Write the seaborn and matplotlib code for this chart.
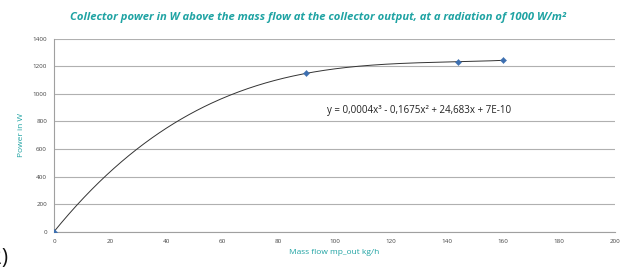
import numpy as np
import pandas as pd
import matplotlib
matplotlib.use("Agg")
import matplotlib.pyplot as plt
import seaborn as sns

# Data
mass_flow = [0, 90, 144, 160]
power = [0, 1148, 1232, 1242]
x_ticks = [0, 20, 40, 60, 80, 100, 120, 140, 160, 180, 200]
y_ticks = [0, 200, 400, 600, 800, 1000, 1200, 1400]
title = "Collector power in W above the mass flow at the collector output, at a radiation of 1000 W/m²"
x_label = "Mass flow mp_out kg/h"
y_label = "Power in W"
equation = "y = 0,0004x³ - 0,1675x² + 24,683x + 7E-10"

sns.set_theme(style="white")
plt.rcParams['font.family'] = ['Open Sans', 'DejaVu Sans']

teal = "#1fa3a3"
fig = plt.figure(figsize=(6.3, 2.69), dpi=100)
ax = fig.add_axes([0.0857, 0.1387, 0.8905, 0.718])

# cubic trendline through the points (as Excel does)
coef = np.polyfit(mass_flow, power, 3)
xs = np.linspace(min(mass_flow), max(mass_flow), 300)
trend = pd.DataFrame({"x": xs, "y": np.polyval(coef, xs)})
sns.lineplot(data=trend, x="x", y="y", ax=ax, color="#333333", linewidth=0.7)

pts = pd.DataFrame({"x": mass_flow, "y": power})
sns.scatterplot(data=pts, x="x", y="y", ax=ax, marker="D", s=10,
                color="#3d6fb0", edgecolor="#3d6fb0", zorder=5)

ax.set_xlim(0, 200)
ax.set_ylim(0, 1400)
ax.set_xticks(x_ticks)
ax.set_yticks(y_ticks)
ax.tick_params(axis="both", labelsize=4.5, colors="#444444", length=2, width=0.5, pad=3)
ax.yaxis.grid(True, color="#b0b0b0", linewidth=0.8)
ax.xaxis.grid(False)
for s in ["top", "right"]:
    ax.spines[s].set_visible(False)
for s in ["left", "bottom"]:
    ax.spines[s].set_color("#a0a0a0")
    ax.spines[s].set_linewidth(0.8)

ax.set_xlabel(x_label, fontsize=6, color=teal, labelpad=4)
ax.set_ylabel(y_label, fontsize=6, color=teal, labelpad=5)

ax.text(97.5, 880, equation, fontsize=7, color="#222222", va="center", ha="left")

fig.text(0.505, 0.935, title, fontsize=8.1, color=teal, fontweight="bold",
         fontstyle="italic", ha="center", va="center")

fig.text(-0.016, 0.0, "2)", fontsize=15, color="#111111", ha="left", va="bottom")

fig.savefig("out.png", dpi=100)
